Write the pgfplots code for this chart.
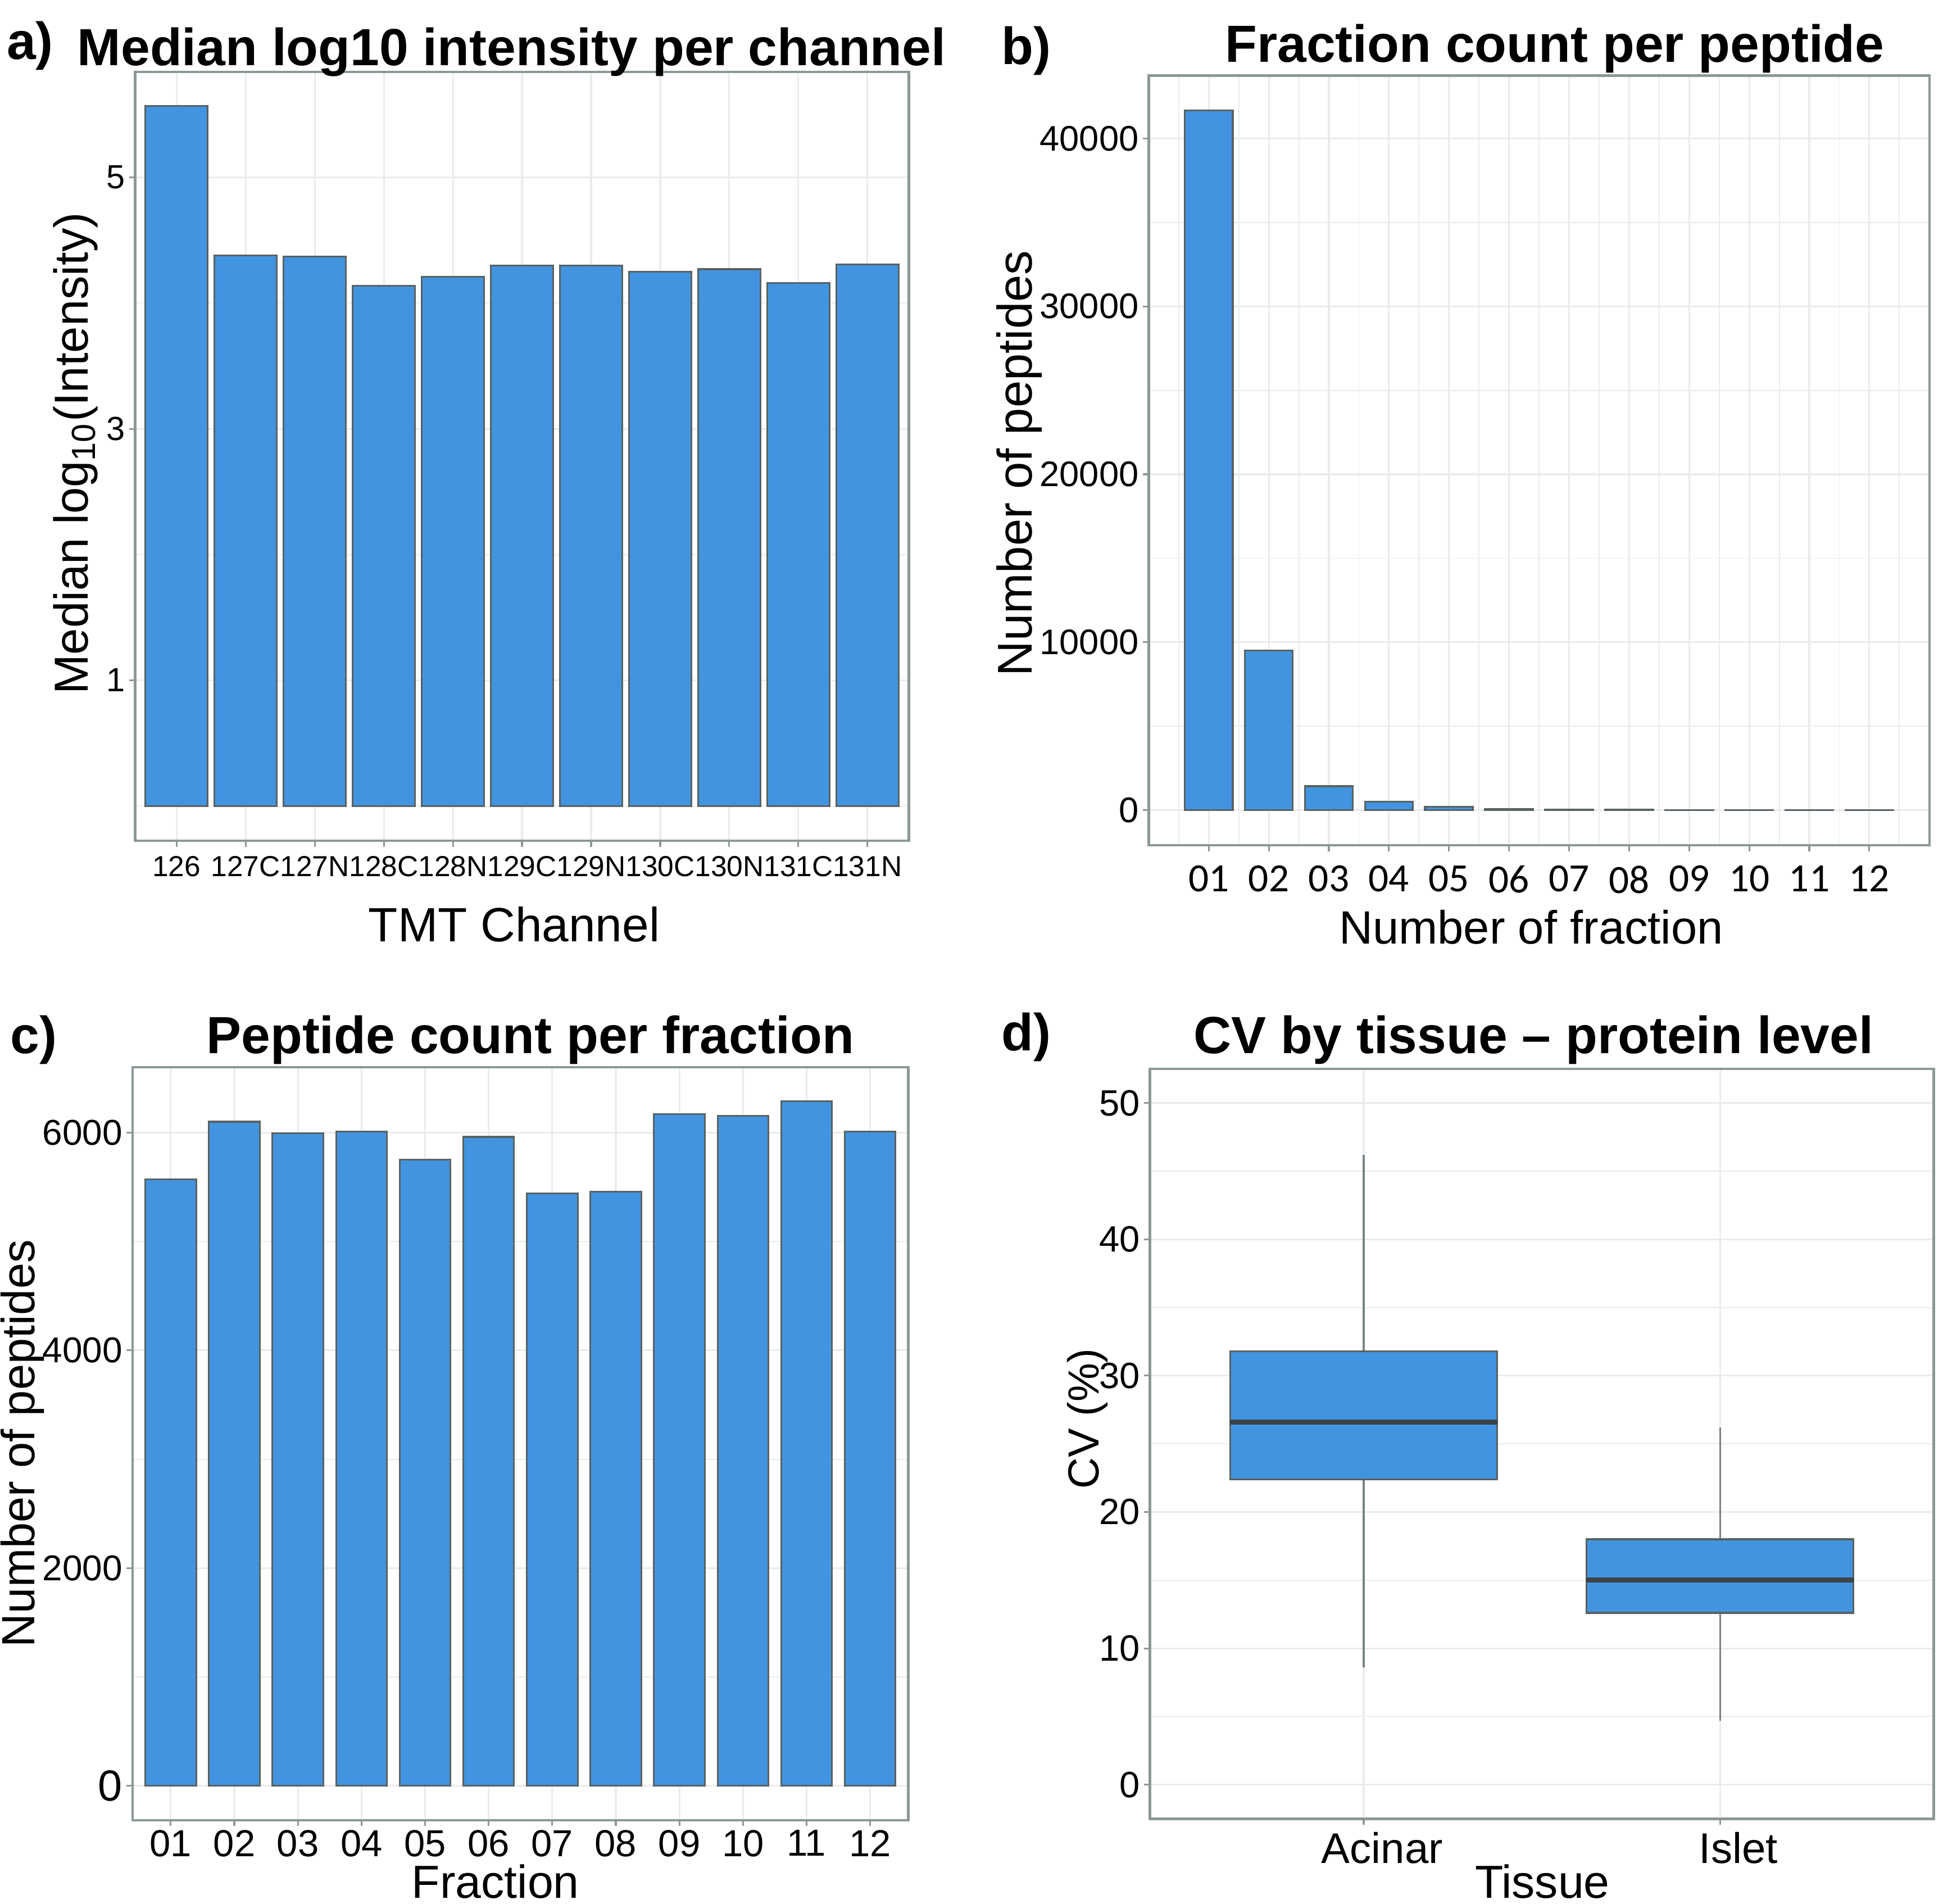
\documentclass[border=0pt]{standalone}
\usepackage{fontspec}
\setmainfont{Liberation Sans}
\newfontfamily\carlito{Carlito}
\usepackage{pgfplots}
\pgfplotsset{compat=1.18}
\usepgfplotslibrary{statistics}

\definecolor{barblue}{RGB}{67,148,224}
\definecolor{bargray}{RGB}{88,98,98}
\definecolor{framegray}{RGB}{140,152,152}
\definecolor{gridgray}{RGB}{234,236,236}
\definecolor{medgray}{RGB}{60,66,70}
\definecolor{whiskgray}{RGB}{120,130,130}

\newcommand{\fs}[1]{\fontsize{#1}{#1}\selectfont}

\pgfplotsset{
  ggbw/.style={
    scale only axis,
    axis line style={draw=framegray, line width=0.7pt},
    xtick pos=lower, ytick pos=left,
    tick align=outside,
    major tick length=1.7pt,
    minor tick length=0pt,
    tick style={draw=framegray, line width=0.5pt},
    grid=both,
    major grid style={draw=gridgray, line width=0.5pt},
    minor grid style={draw=gridgray, line width=0.3pt},
    /pgf/number format/assume math mode=true,
    scaled ticks=false,
    yticklabel style={/pgf/number format/fixed, /pgf/number format/1000 sep={}, inner sep=1pt},
    xticklabel style={inner sep=1.5pt},
    ticklabel style={text=black},
  },
}

\begin{document}
\begin{tikzpicture}
\useasboundingbox (0,0) rectangle (19.6cm,19.2cm);

% a) median log10 intensity per channel
\begin{axis}[ggbw, at={(1.3625cm,10.71875cm)}, anchor=south west,
  width=7.80625cm, height=7.75625cm,
  xmin=-0.6, xmax=10.6, ymin=-0.278, ymax=5.84,
  xtick={0,...,10},
  xticklabels={126,127C,127N,128C,128N,129C,129N,130C,130N,131C,131N},
  ytick={1,3,5}, minor ytick={0,2,4},
  xticklabel style={font=\fs{8.3}, inner sep=2.5pt},
  yticklabel style={font=\fs{9.6}}]
\addplot[ybar, bar width=0.9, fill=barblue, draw=bargray, line width=0.5pt]
  coordinates {(0,5.57) (1,4.38) (2,4.37) (3,4.14) (4,4.21) (5,4.30) (6,4.30) (7,4.25) (8,4.27) (9,4.16) (10,4.31)};
\end{axis}

% b) fraction count per peptide
\begin{axis}[ggbw, at={(11.5875cm,10.675cm)}, anchor=south west,
  width=7.875cm, height=7.7625cm,
  xmin=0, xmax=13, ymin=-2083, ymax=43743,
  xtick={1,...,12},
  xticklabels={01,02,03,04,05,06,07,08,09,10,11,12},
  minor xtick={0.5,1.5,...,12.5},
  ytick={0,10000,20000,30000,40000}, minor ytick={5000,15000,25000,35000},
  xticklabel style={font=\carlito\fs{11.5}, yshift=-2.5pt},
  yticklabel style={font=\fs{10.2}}]
\addplot[ybar, bar width=0.8, fill=barblue, draw=bargray, line width=0.5pt]
  coordinates {(1,41660) (2,9510) (3,1430) (4,520) (5,200) (6,90) (7,50) (8,25) (9,15) (10,8) (11,5) (12,3)};
\end{axis}

% c) peptide count per fraction
\begin{axis}[ggbw, at={(1.3375cm,0.8425cm)}, anchor=south west,
  width=7.825cm, height=7.595cm,
  xmin=0.4, xmax=12.6, ymin=-314, ymax=6602,
  xtick={1,...,12},
  xticklabels={01,02,03,04,05,06,07,08,09,10,11,12},
  ytick={0,2000,4000,6000}, minor ytick={1000,3000,5000},
  yticklabels={{\fs{12.5}0},2000,4000,6000},
  xticklabel style={font=\fs{10.8}, inner sep=1pt},
  yticklabel style={font=\fs{10.3}}]
\addplot[ybar, bar width=0.8, fill=barblue, draw=bargray, line width=0.5pt]
  coordinates {(1,5573) (2,6100) (3,5995) (4,6010) (5,5750) (6,5961) (7,5440) (8,5457) (9,6172) (10,6155) (11,6288) (12,6010)};
\end{axis}

% d) CV by tissue
\begin{axis}[ggbw, at={(11.6cm,0.85625cm)}, anchor=south west,
  width=7.90625cm, height=7.5625cm,
  xmin=0.4, xmax=2.6, ymin=-2.5, ymax=52.5,
  xtick={1,2}, xticklabels={Acinar,Islet},
  ytick={0,10,...,50}, minor ytick={5,15,...,45},
  xticklabel style={font=\fs{12.3}, xshift=5.3pt, inner sep=2pt},
  yticklabel style={font=\fs{10.5}},
  boxplot/draw direction=y,
  boxplot/every median/.style={draw=medgray, line width=1.5pt},
  boxplot/every whisker/.style={draw=whiskgray, line width=0.5pt}]
\addplot[boxplot prepared={draw position=1, median=26.6, upper quartile=31.8,
    lower quartile=22.4, upper whisker=46.2, lower whisker=8.6,
    box extend=0.75, whisker extend=0},
  fill=barblue, draw=bargray, line width=0.5pt] coordinates {};
\addplot[boxplot prepared={draw position=2, median=15.0, upper quartile=18.0,
    lower quartile=12.6, upper whisker=26.2, lower whisker=4.7,
    box extend=0.75, whisker extend=0},
  fill=barblue, draw=bargray, line width=0.5pt] coordinates {};
\end{axis}

% titles and labels, placed in reference pixel units (y from top)
\begin{scope}[x=0.0125cm, y=-0.0125cm, yshift=19.2cm]
  \node[anchor=base west, inner sep=0, font=\bfseries\fs{15}] at (5,48) {a)};
  \node[anchor=base, inner sep=0, font=\bfseries\fs{15}] at (413,53) {Median log10 intensity per channel};
  \node[anchor=base, inner sep=0, font=\fs{13.8}] at (415,760) {TMT Channel};
  \node[anchor=base, inner sep=0, rotate=90, font=\fs{13.7}] at (71,366) {Median log\textsubscript{10}(Intensity)};

  \node[anchor=base west, inner sep=0, font=\bfseries\fs{15}] at (808,52) {b)};
  \node[anchor=base, inner sep=0, font=\bfseries\fs{15}] at (1255,50) {Fraction count per peptide};
  \node[anchor=base, inner sep=0, font=\fs{13.4}] at (1236,762) {Number of fraction};
  \node[anchor=base, inner sep=0, rotate=90, font=\fs{14}] at (833,374) {Number of peptides};

  \node[anchor=base west, inner sep=0, font=\bfseries\fs{15}] at (8,850) {c)};
  \node[anchor=base, inner sep=0, font=\bfseries\fs{15}] at (428,850) {Peptide count per fraction};
  \node[anchor=base, inner sep=0, font=\fs{13.3}] at (400,1532) {Fraction};
  \node[anchor=base, inner sep=0, rotate=90, font=\fs{13.4}] at (28,1165) {Number of peptides};

  \node[anchor=base west, inner sep=0, font=\bfseries\fs{15}] at (808,848) {d)};
  \node[anchor=base, inner sep=0, font=\bfseries\fs{15}] at (1238,850) {CV by tissue -- protein level};
  \node[anchor=base, inner sep=0, font=\fs{13.3}] at (1245,1532) {Tissue};
  \node[anchor=base, inner sep=0, rotate=90, font=\fs{12.5}] at (887,1145) {CV (\%)};
\end{scope}
\end{tikzpicture}
\end{document}
